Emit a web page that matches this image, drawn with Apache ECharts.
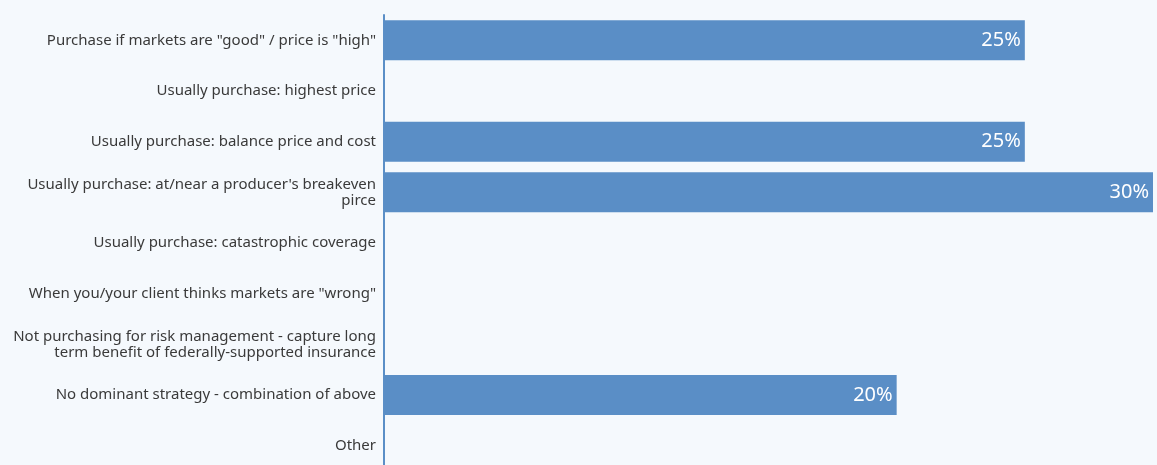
<!DOCTYPE html>
<html>
<head>
<meta charset="utf-8">
<script src="https://cdn.jsdelivr.net/npm/echarts@6/dist/echarts.min.js"></script>
<style>
html,body{margin:0;padding:0;background:#f5f9fd;}
#chart{width:1157px;height:465px;}
</style>
</head>
<body>
<div id="chart"></div>
<script>
var categories = [
	'Purchase if markets are "good" / price is "high"',
	'Usually purchase: highest price',
	'Usually purchase: balance price and cost',
	"Usually purchase: at/near a producer's breakeven\npirce",
	'Usually purchase: catastrophic coverage',
	'When you/your client thinks markets are "wrong"',
	'Not purchasing for risk management - capture long\nterm benefit of federally-supported insurance',
	'No dominant strategy - combination of above',
	'Other'
];
var values = [25, 0, 25, 30, 0, 0, 0, 20, 0];

function init(){
	var option = {
		backgroundColor: '#f5f9fd',
		animation: false,
		grid: {
			left: 384,
			right: 4,
			top: 15,
			height: 456,
			outerBoundsMode: 'none'
		},
		xAxis: {
			type: 'value',
			min: 0,
			max: 30,
			show: false
		},
		yAxis: {
			type: 'category',
			inverse: true,
			data: categories,
			axisLine: {
				show: true,
				lineStyle: {color: '#5b8fc7', width: 2}
			},
			axisTick: {show: false},
			axisLabel: {
				margin: 8,
				color: '#3a3a3a',
				fontFamily: 'Noto Sans',
				fontSize: 15,
				lineHeight: 16
			}
		},
		series: [{
			type: 'bar',
			data: values,
			barCategoryGap: '21%',
			itemStyle: {color: '#5a8ec6'},
			label: {
				show: true,
				position: 'insideRight',
				distance: 4,
				color: '#ffffff',
				fontFamily: 'Noto Sans',
				fontSize: 20,
				formatter: function(p){
					return p.value ? p.value + '%' : '';
				}
			}
		}]
	};

	//初始化echarts实例
	var myChart = echarts.init(document.getElementById('chart'));
	myChart.setOption(option);
}
init();
</script>
</body>
</html>
